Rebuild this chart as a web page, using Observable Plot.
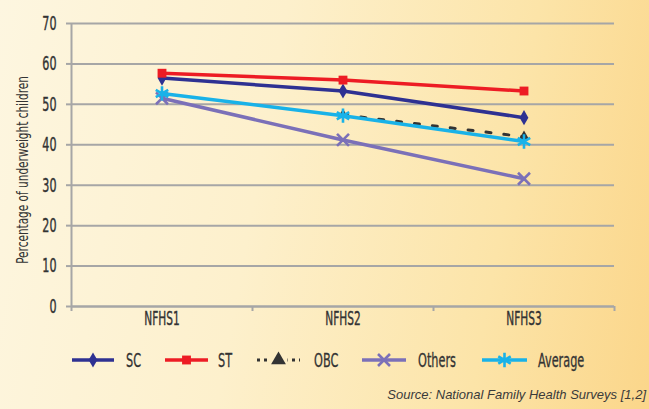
<!DOCTYPE html>
<html><head><meta charset="utf-8">
<script src="https://cdn.jsdelivr.net/npm/d3@7"></script>
<script src="https://cdn.jsdelivr.net/npm/@observablehq/plot@0.6"></script>
<style>
body{margin:0}
#wrap{position:relative;width:649px;height:409px;overflow:hidden;
 background:linear-gradient(100deg,#fdf6e0 0%,#fdf0cc 40%,#fce4a8 75%,#fbd68a 100%);
 font-family:"DejaVu Sans Condensed","DejaVu Sans",sans-serif;font-stretch:condensed;color:#333}
#chart{position:absolute;left:0;top:0}
.sw{position:absolute;top:350px}
.lt{position:absolute;top:349px;font-size:19px;line-height:22px;color:#333;transform:scaleX(0.66);transform-origin:0 50%;white-space:nowrap;-webkit-text-stroke:0.3px #333}
#source{position:absolute;right:3px;top:387px;font:italic 13px "Liberation Sans",Arial,sans-serif;font-stretch:normal;color:#3a3a3a}
</style></head>
<body>
<div id="wrap">
<div id="chart"></div>
<div id="legend"></div>
<div id="source">Source: National Family Health Surveys [1,2]</div>
</div>
<script>
const surveys = ["NFHS1","NFHS2","NFHS3"];
const seriesNames = ["SC","ST","OBC","Others","Average"];
const sc = [56.5, 53.3, 46.7];
const st = [57.7, 56.0, 53.3];
const obc = [null, 47.4, 42.0];
const others = [51.5, 41.2, 31.6];
const average = [52.7, 47.2, 40.8];
const yTicks = [0,10,20,30,40,50,60,70];

const values = {SC: sc, ST: st, OBC: obc, Others: others, Average: average};
const colors = {SC:"#2e3192", ST:"#ed1c24", OBC:"#333333", Others:"#7b70b8", Average:"#19b2e8"};
const symbols = {SC:"diamond", ST:"square", OBC:"triangle", Others:"times", Average:"asterisk"};
const radius = {SC:4.6, ST:5, OBC:4, Others:5.5, Average:6.8};

const rows = [];
for (const s of seriesNames) values[s].forEach((v,i)=>{ if (v!=null) rows.push({series:s, i, survey:surveys[i], value:v}); });

const grid = "#a6a6a6";
const font = '"DejaVu Sans Condensed","DejaVu Sans",sans-serif';
const marks = [
  Plot.gridY(yTicks, {stroke: grid, strokeOpacity: 1, strokeWidth: 2}),
  Plot.ruleX([0], {stroke: grid, strokeWidth: 2}),
  Plot.ruleY([0], {stroke: grid, strokeWidth: 2}),
  Plot.axisY(yTicks, {tickSize: 5, tickPadding: 10, fontSize: 20, stroke: grid, strokeWidth: 2,
    label: "Percentage of underweight children", labelAnchor: "center", labelArrow: "none", labelOffset: 54}),
  Plot.axisX([0,1,2,3], {tickSize: 5, tickFormat: () => "", stroke: grid, strokeWidth: 2, label: null}),
  Plot.axisX(surveys.map((d,i)=>i+0.5), {tickSize: 0, tickPadding: 5, fontSize: 19, tickFormat: d => surveys[Math.floor(d)], label: null})
];
for (const s of seriesNames) {
  const data = rows.filter(d => d.series === s);
  marks.push(Plot.line(data, {x: d => d.i + 0.5, y: "value", stroke: colors[s], strokeWidth: s==="OBC"?3:3.5,
    strokeDasharray: s==="OBC" ? "5,13" : null}));
  const filled = s==="SC"||s==="ST"||s==="OBC";
  marks.push(Plot.dot(data, {x: d => d.i + 0.5, y: "value", symbol: symbols[s], r: radius[s],
    fill: filled ? colors[s] : "none", stroke: filled ? "none" : colors[s], strokeWidth: 2.6}));
}

const plot = Plot.plot({
  width: 649, height: 330,
  marginLeft: 71, marginRight: 35, marginTop: 23, marginBottom: 24,
  style: {background: "transparent", color: "#333", fontFamily: font},
  x: {type: "linear", domain: [0,3]},
  y: {domain: [0,70], label: "Percentage of underweight children"},
  marks
});
document.getElementById("chart").append(plot);
// condense tick labels (narrow typeface look)
plot.querySelectorAll("[aria-label='y-axis tick label'] text, [aria-label='x-axis tick label'] text").forEach(t=>{
  t.setAttribute("transform", (t.getAttribute("transform")||"") + " scale(0.62,1)");
  t.setAttribute("stroke", "#333"); t.setAttribute("stroke-width", "0.4");
});
plot.querySelectorAll("[aria-label='y-axis label'] text").forEach(t=>{
  t.setAttribute("font-size","15");
  t.setAttribute("transform", (t.getAttribute("transform")||"") + " translate(-5,0) scale(0.78,1)");
});

// legend
const swatchPos = {SC:[72,114], ST:[165,208], OBC:[257,300], Others:[362,406], Average:[482,527]};
const labelPos = {SC:126, ST:218, OBC:314, Others:418, Average:538};
const lgWrap = document.getElementById("legend");
for (const s of seriesNames) {
  const [a,b] = swatchPos[s];
  const w = b - a;
  const svg = d3.create("svg").attr("class","sw").attr("width", w).attr("height", 20).style("left", a+"px");
  svg.append("line").attr("x1",0).attr("x2",w).attr("y1",10).attr("y2",10)
    .attr("stroke", colors[s]).attr("stroke-width", s==="OBC"?3:3.5)
    .attr("stroke-dasharray", s==="OBC"?"3,4":null);
  const sym = {diamond:d3.symbolDiamond, square:d3.symbolSquare, triangle:d3.symbolTriangle, times:d3.symbolTimes, asterisk:d3.symbolAsterisk}[symbols[s]];
  const r = radius[s] + (s==="OBC"?1.5:0);
  const filled = s==="SC"||s==="ST"||s==="OBC";
  if (s==="OBC") svg.append("rect").attr("x", w/2-9).attr("y",4).attr("width",18).attr("height",12).attr("fill","#fdeec6");
  svg.append("path").attr("transform", `translate(${w/2},10)`)
    .attr("d", d3.symbol(sym, Math.PI*r*r)())
    .attr("fill", filled?colors[s]:"none").attr("stroke", filled?"none":colors[s]).attr("stroke-width", 2.6);
  lgWrap.append(svg.node());
  const sp = document.createElement("div"); sp.className="lt"; sp.textContent = s; sp.style.left = labelPos[s]+"px";
  lgWrap.append(sp);
}
</script>
</body></html>
